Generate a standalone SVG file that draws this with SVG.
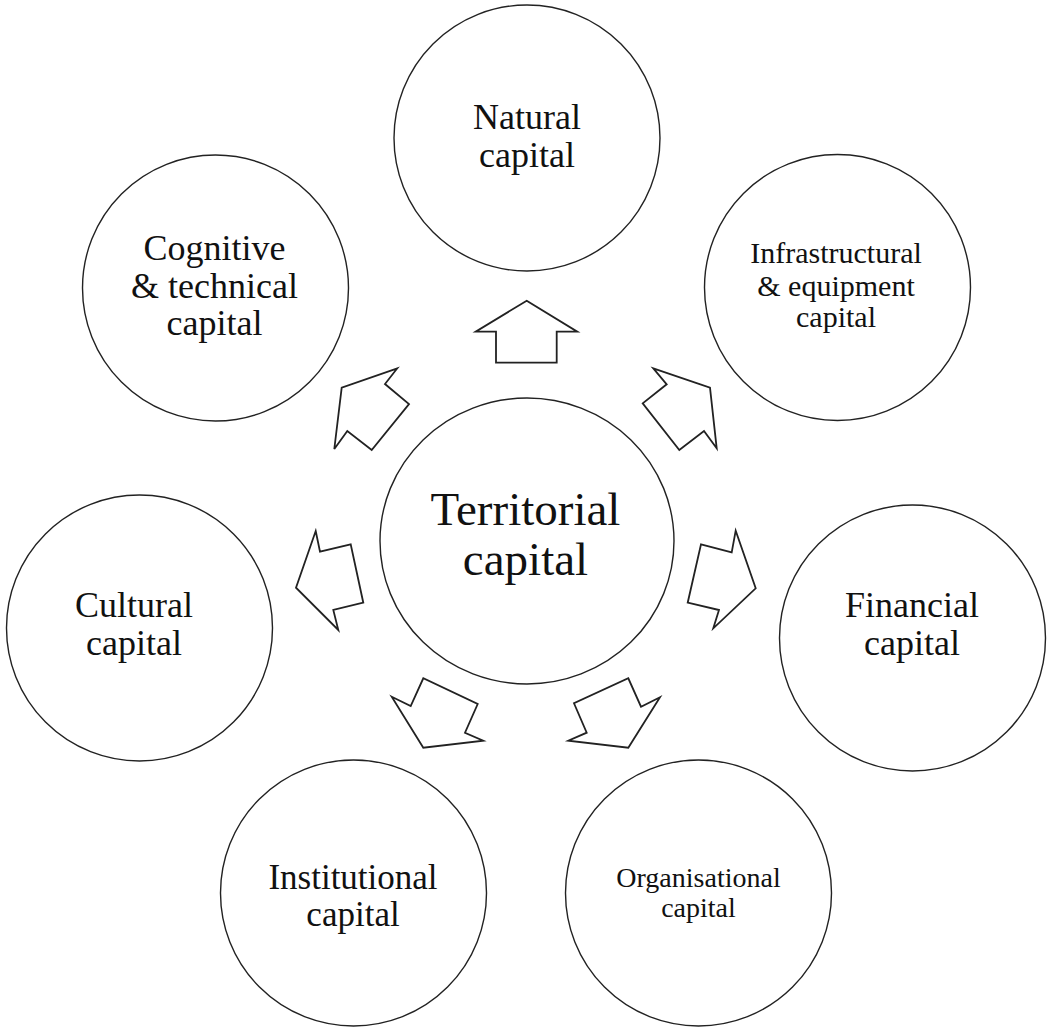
<svg xmlns="http://www.w3.org/2000/svg" width="1049" height="1028" viewBox="0 0 1049 1028">
<style>
.c{fill:#fff;stroke:#222;stroke-width:1.4}
.a{fill:#fff;stroke:#222;stroke-width:1.8;stroke-linejoin:miter}
text{font-family:"Liberation Serif","Times New Roman",serif;fill:#111;text-anchor:middle}
.t36{font-size:36px}
.t35{font-size:35px}
.t30{font-size:30px}
.t28{font-size:28px}
.t47{font-size:47px}
</style>
<rect width="1049" height="1028" fill="#fff"/>
<g id="natural"><circle class="c" cx="527" cy="138" r="133"/><text class="t36" x="527" y="129">Natural</text><text class="t36" x="527" y="166.5">capital</text></g>
<g id="infrastructural"><circle class="c" cx="837.5" cy="287.5" r="133"/><text class="t30" x="836" y="262.5">Infrastructural</text><text class="t30" x="836" y="296">&amp; equipment</text><text class="t30" x="836" y="327">capital</text></g>
<g id="financial"><circle class="c" cx="912.5" cy="638" r="133"/><text class="t36" x="912" y="617">Financial</text><text class="t36" x="912" y="655">capital</text></g>
<g id="organisational"><circle class="c" cx="698.5" cy="893" r="133"/><text class="t28" x="698.5" y="886.5">Organisational</text><text class="t28" x="698.5" y="916.5">capital</text></g>
<g id="institutional"><circle class="c" cx="353.5" cy="893" r="133"/><text class="t35" x="353" y="889">Institutional</text><text class="t35" x="353" y="926">capital</text></g>
<g id="cultural"><circle class="c" cx="139.5" cy="628" r="133"/><text class="t36" x="134" y="617">Cultural</text><text class="t36" x="134" y="655">capital</text></g>
<g id="cognitive"><circle class="c" cx="215.5" cy="288" r="133"/><text class="t36" x="214.5" y="260">Cognitive</text><text class="t36" x="214.5" y="298">&amp; technical</text><text class="t36" x="214.5" y="335">capital</text></g>
<g id="territorial"><ellipse class="c" cx="527" cy="541" rx="147" ry="143"/><text class="t47" x="525.5" y="525">Territorial</text><text class="t47" x="525.5" y="575">capital</text></g>
<g id="connectors">
<polygon class="a" points="526.7,300.7 577.3,331.7 556.7,331.7 556.7,362.7 496,362.7 496,331.7 475.7,331.7"/>
<polygon class="a" points="653.3,368.3 710,387.7 716.7,448.3 704,431 679.3,450 642.7,403.3 666.7,384.3"/>
<polygon class="a" points="397.3,368.3 385,384 409,404 371.7,450 347.3,431 334.3,449 341.7,387.7"/>
<polygon class="a" points="315.7,531 320,551.7 350.7,544.3 363.3,602.7 333.3,610 338.3,630 296,587.7"/>
<polygon class="a" points="735.7,530.7 731.7,552.3 701,544.3 687.7,602.7 719,610 713.3,628.3 755.7,588.3"/>
<polygon class="a" points="391.7,696.7 410.7,706 423.3,678.3 477.7,704 465,732.7 483.3,740.7 423.3,747.7"/>
<polygon class="a" points="660,697.3 641,706.7 628.3,678.3 574,703.3 586.7,732.7 568.3,740.7 628.3,747.7"/>
</g>
</svg>
